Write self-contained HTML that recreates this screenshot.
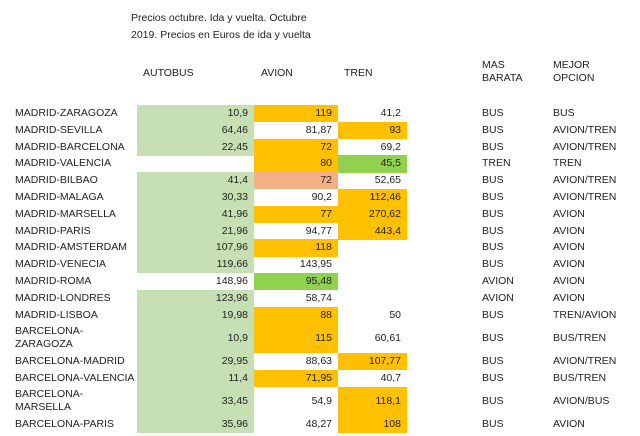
<!DOCTYPE html>
<html><head><meta charset="utf-8"><style>
html,body{margin:0;padding:0;background:#fff;}
#root{position:relative;width:640px;height:436px;overflow:hidden;font-family:"Liberation Sans",sans-serif;font-size:10.5px;color:#222;}
.t{position:absolute;white-space:nowrap;line-height:13px;}
.c{position:absolute;}
</style></head><body>
<div id="root">
<div class="t" style="left:131px;top:12px">Precios octubre. Ida y vuelta. Octubre</div>
<div class="t" style="left:131px;top:29px">2019. Precios en Euros de ida y vuelta</div>
<div class="t" style="left:143px;top:67px">AUTOBUS</div>
<div class="t" style="left:261px;top:67px">AVION</div>
<div class="t" style="left:344px;top:67px">TREN</div>
<div class="t" style="left:482px;top:59px">MAS<br>BARATA</div>
<div class="t" style="left:553px;top:59px">MEJOR<br>OPCION</div>
</div>
<script>
const routes=["MADRID-ZARAGOZA","MADRID-SEVILLA","MADRID-BARCELONA","MADRID-VALENCIA","MADRID-BILBAO","MADRID-MALAGA","MADRID-MARSELLA","MADRID-PARIS","MADRID-AMSTERDAM","MADRID-VENECIA","MADRID-ROMA","MADRID-LONDRES","MADRID-LISBOA","BARCELONA-|ZARAGOZA","BARCELONA-MADRID","BARCELONA-VALENCIA","BARCELONA-|MARSELLA","BARCELONA-PARIS"];
const bus=["10,9","64,46","22,45","","41,4","30,33","41,96","21,96","107,96","119,66","148,96","123,96","19,98","10,9","29,95","11,4","33,45","35,96"];
const avion=["119","81,87","72","80","72","90,2","77","94,77","118","143,95","95,48","58,74","88","115","88,63","71,95","54,9","48,27"];
const tren=["41,2","93","69,2","45,5","52,65","112,46","270,62","443,4","","","","","50","60,61","107,77","40,7","118,1","108"];
const masBarata=["BUS","BUS","BUS","TREN","BUS","BUS","BUS","BUS","BUS","BUS","AVION","AVION","BUS","BUS","BUS","BUS","BUS","BUS"];
const mejor=["BUS","AVION/TREN","AVION/TREN","TREN","AVION/TREN","AVION/TREN","AVION","AVION","AVION","AVION","AVION","AVION","TREN/AVION","BUS/TREN","AVION/TREN","BUS/TREN","AVION/BUS","AVION"];
const busFill=["g","g","g","","g","g","g","g","g","g","","g","g","g","g","g","g","g"];
const avionFill=["o","","o","o","s","","o","","o","","G","","o","o","","o","",""];
const trenFill=["","o","","G","","o","o","o","","","","","","","o","","o","o"];
const colors={g:"#c6e0b4",o:"#ffc000",s:"#f4b084",G:"#92d050"};
const root=document.getElementById('root');
const cols=[{x:137,w:117,vals:bus,fill:busFill,n:'bus'},{x:254,w:84,vals:avion,fill:avionFill,n:'avion'},{x:338,w:69,vals:tren,fill:trenFill,n:'tren'}];
let y=105;
routes.forEach((r,i)=>{
  const two=r.includes('|');
  const h=two?29.6:16.8;
  cols.forEach(c=>{
    if(c.fill[i]){
      const d=document.createElement('div');d.className='c';
      d.style.cssText=`left:${c.x}px;top:${y}px;width:${c.w}px;height:${h+0.5}px;background:${colors[c.fill[i]]}`;
      
      
      root.appendChild(d);
    }
    if(c.vals[i]){
      const t=document.createElement('div');t.className='t';
      t.style.cssText=`left:${c.x}px;width:${c.w-6}px;text-align:right;top:${y+h/2-6.5}px`;
      t.textContent=c.vals[i];
      
      
      root.appendChild(t);
    }
  });
  const l=document.createElement('div');l.className='t';
  l.style.cssText=`left:15px;top:${y+h/2-(two?13:6.5)}px`;
  l.innerHTML=r.split('|').join('<br>');
  
  
  root.appendChild(l);
  const m=document.createElement('div');m.className='t';
  m.style.cssText=`left:482px;top:${y+h/2-6.5}px`;m.textContent=masBarata[i];
  
  
  root.appendChild(m);
  const b=document.createElement('div');b.className='t';
  b.style.cssText=`left:553px;top:${y+h/2-6.5}px`;b.textContent=mejor[i];
  
  
  root.appendChild(b);
  y+=h;
});
</script>
</body></html>
